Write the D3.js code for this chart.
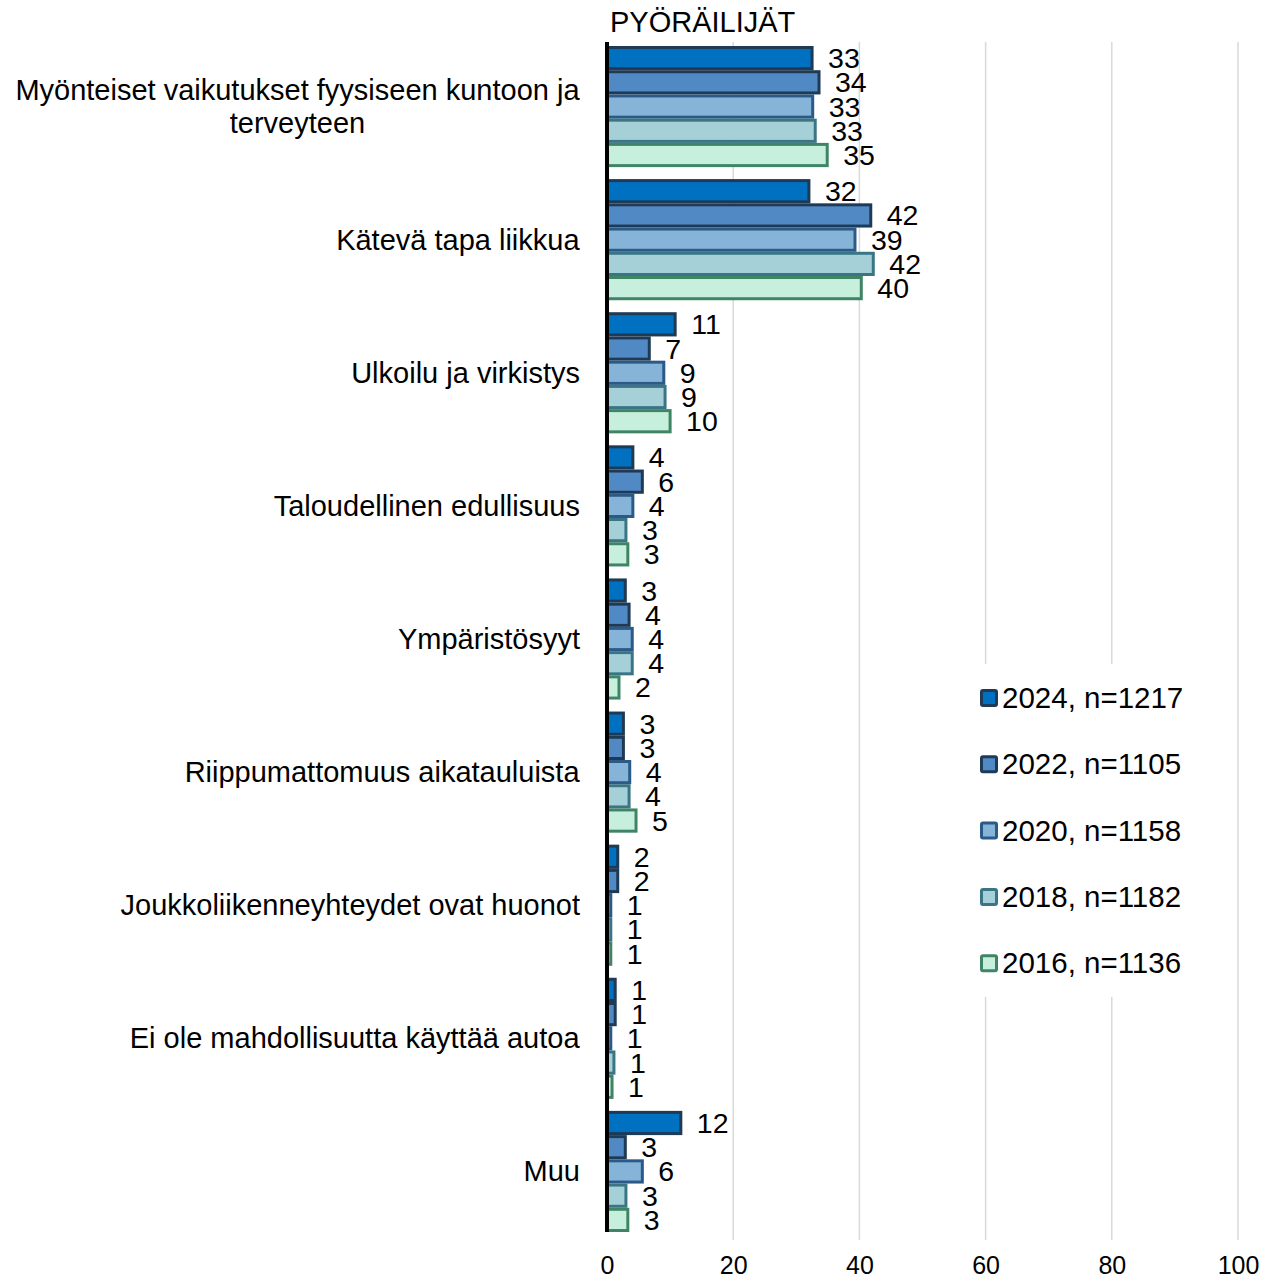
<!DOCTYPE html>
<html>
<head>
<meta charset="utf-8">
<script src="https://cdn.jsdelivr.net/npm/d3@7"></script>
<style>
  body { margin: 0; background: #fff; }
  svg text { font-family: "Liberation Sans", Arial, sans-serif; fill: #000; }
</style>
</head>
<body>
<svg id="chart" width="1273" height="1279"></svg>
<script>
// categories (top to bottom)
const categories = [
  ["Myönteiset vaikutukset fyysiseen kuntoon ja", "terveyteen"],
  ["Kätevä tapa liikkua"],
  ["Ulkoilu ja virkistys"],
  ["Taloudellinen edullisuus"],
  ["Ympäristösyyt"],
  ["Riippumattomuus aikatauluista"],
  ["Joukkoliikenneyhteydet ovat huonot"],
  ["Ei ole mahdollisuutta käyttää autoa"],
  ["Muu"]
];
const seriesNames = ["2024, n=1217", "2022, n=1105", "2020, n=1158", "2018, n=1182", "2016, n=1136"];
const v2024 = [32.5, 32.0, 10.8, 4.1, 2.9, 2.6, 1.7, 1.3, 11.7];
const v2022 = [33.6, 41.8, 6.7, 5.6, 3.5, 2.6, 1.7, 1.3, 2.9];
const v2020 = [32.6, 39.3, 9.0, 4.1, 4.0, 3.6, 0.6, 0.6, 5.6];
const v2018 = [33.0, 42.2, 9.2, 3.0, 4.0, 3.5, 0.6, 1.1, 3.0];
const v2016 = [34.9, 40.3, 10.0, 3.3, 1.9, 4.6, 0.6, 0.8, 3.3];
const xTicks = [0, 20, 40, 60, 80, 100];
const title = "PYÖRÄILIJÄT";

const series = [v2024, v2022, v2020, v2018, v2016];
const fills = ["#0070C0", "#5189C5", "#85B4D8", "#A6D0D8", "#C6F0DD"];
const strokes = ["#1F3A55", "#1F3A55", "#2A5A85", "#3A7585", "#3F8565"];

const svg = d3.select("#chart");

const x = d3.scaleLinear().domain([0, 100]).range([607, 1238]);
const y = d3.scaleBand().domain(d3.range(categories.length)).range([40, 1238]).paddingInner(0.09).paddingOuter(0.045);
const yInner = d3.scaleBand().domain(d3.range(series.length)).range([0, y.bandwidth()]);

// gridlines
svg.append("g")
  .selectAll("line")
  .data(xTicks.slice(1))
  .enter().append("line")
  .attr("x1", d => x(d)).attr("x2", d => x(d))
  .attr("y1", 42).attr("y2", 1240)
  .attr("stroke", "#D9D9D9").attr("stroke-width", 1.5);

// x axis labels
const xAxis = svg.append("g")
  .attr("transform", "translate(0,1240)")
  .call(d3.axisBottom(x).tickValues(xTicks).tickSize(0).tickPadding(16));
xAxis.select(".domain").remove();
xAxis.selectAll("text").style("font-size", "25px").style("font-family", "Liberation Sans, Arial, sans-serif");

// bars
series.forEach((vals, si) => {
  svg.append("g")
    .selectAll("rect")
    .data(vals)
    .enter().append("rect")
    .attr("x", x(0))
    .attr("y", (d, i) => y(i) + yInner(si) + 1.5)
    .attr("width", d => x(d) - x(0))
    .attr("height", yInner.bandwidth() - 3)
    .attr("fill", fills[si])
    .attr("stroke", strokes[si])
    .attr("stroke-width", 3);

  svg.append("g")
    .selectAll("text")
    .data(vals)
    .enter().append("text")
    .attr("x", d => x(d) + 16)
    .attr("y", (d, i) => y(i) + yInner(si) + yInner.bandwidth() / 2 + 10)
    .style("font-size", "28.5px")
    .text(d => Math.round(d));
});

// vertical axis line
svg.append("line")
  .attr("x1", x(0)).attr("x2", x(0))
  .attr("y1", 42).attr("y2", 1232)
  .attr("stroke", "#000").attr("stroke-width", 4);

// category labels
categories.forEach((lines, i) => {
  const t = svg.append("text")
    .style("font-size", "29px")
    .attr("text-anchor", "middle");
  const cy = y(i) + y.bandwidth() / 2;
  const lh = 33;
  lines.forEach((ln, j) => {
    t.append("tspan").attr("x", 0).attr("dy", j === 0 ? 0 : lh).text(ln);
  });
  // widest line decides where the centred block sits, right edge at 580
  const w = t.node().getBBox().width;
  t.attr("y", cy + 10 - (lines.length - 1) * lh / 2);
  t.selectAll("tspan").attr("x", 580 - w / 2);
});

// title
svg.append("text")
  .attr("x", 610).attr("y", 32)
  .style("font-size", "29px")
  .text(title);

// legend
const lg = svg.append("g");
lg.append("rect")
  .attr("x", 962).attr("y", 664).attr("width", 240).attr("height", 333)
  .attr("fill", "#fff");
seriesNames.forEach((name, i) => {
  const cy = 698 + i * 66.3;
  lg.append("rect")
    .attr("x", 981.5).attr("y", cy - 7.5).attr("width", 15).attr("height", 15)
    .attr("fill", fills[i]).attr("stroke", strokes[i]).attr("stroke-width", 3)
    .attr("rx", 1.5);
  lg.append("text")
    .attr("x", 1002).attr("y", cy + 10)
    .style("font-size", "29.5px")
    .text(name);
});
</script>
</body>
</html>
